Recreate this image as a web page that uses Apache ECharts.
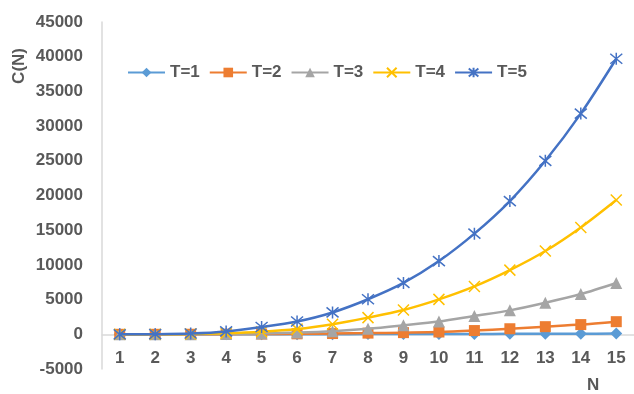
<!DOCTYPE html>
<html><head><meta charset="utf-8">
<script src="https://cdn.jsdelivr.net/npm/echarts@6/dist/echarts.min.js"></script>
<style>html,body{margin:0;padding:0;background:#fff}#c{width:634px;height:394px}</style>
</head><body><div id="c"></div>
<script>
const categories = ['1','2','3','4','5','6','7','8','9','10','11','12','13','14','15'];
const seriesNames = ['T=1','T=2','T=3','T=4','T=5'];
const t1 = [0, 1, 3, 6, 10, 15, 21, 28, 36, 45, 55, 66, 78, 91, 105];
const t2 = [0, 2, 8, 20, 40, 70, 110, 170, 240, 330, 540, 800, 1100, 1400, 1820];
const t3 = [0, 3, 15, 50, 120, 250, 450, 800, 1300, 1850, 2650, 3450, 4550, 5800, 7400];
const t4 = [0, 5, 40, 140, 360, 750, 1450, 2400, 3500, 5030, 6900, 9250, 12000, 15400, 19350];
const t5 = [0, 20, 120, 420, 1050, 1850, 3150, 5050, 7400, 10550, 14500, 19200, 25000, 31800, 39700];
const yTicks = {min: -5000, max: 45000, interval: 5000};

const colors = ['#5B9BD5', '#ED7D31', '#A5A5A5', '#FFC000', '#4472C4'];
const symbols = ['diamond', 'rect', 'triangle',
  'path://M0,0L10,10M10,0L0,10',
  'path://M0,0L10,10M10,0L0,10M5,-1L5,11'];
const sizes = [12, 11, 12, 11, 12];
const data = [t1, t2, t3, t4, t5];

const W = 634, H = 394;
const gridTop = 22, gridBottom = 25;
const plotH = H - gridTop - gridBottom;
const zeroOffset = plotH * (0 - yTicks.min) / (yTicks.max - yTicks.min);

const chart = echarts.init(document.getElementById('c'), null, {renderer: 'canvas'});
const font = 'Liberation Sans';
chart.setOption({
  animation: false,
  color: colors,
  grid: {left: 102, right: 0, top: gridTop, bottom: gridBottom, containLabel: false, outerBoundsMode: 'none'},
  legend: {
    top: 59, left: 122,
    itemWidth: 37, itemHeight: 12, itemGap: 9,
    textStyle: {fontFamily: font, fontWeight: 'bold', fontSize: 17, color: '#595959'},
    data: seriesNames
  },
  xAxis: {
    type: 'category', data: categories, boundaryGap: true,
    position: 'bottom', offset: -zeroOffset,
    axisLine: {onZero: false, lineStyle: {color: '#D9D9D9', width: 1.5}},
    axisTick: {show: false},
    axisLabel: {fontFamily: font, fontWeight: 'bold', fontSize: 17, color: '#595959', margin: 16}
  },
  yAxis: {
    type: 'value', min: yTicks.min, max: yTicks.max, interval: yTicks.interval,
    axisLine: {show: true, lineStyle: {color: '#D9D9D9', width: 1.5}},
    axisTick: {show: false},
    splitLine: {show: false},
    axisLabel: {fontFamily: font, fontWeight: 'bold', fontSize: 17, color: '#595959', margin: 19,
      formatter: v => String(v)}
  },
  graphic: [
    {type: 'text', left: 11, top: 48, rotation: Math.PI / 2,
     style: {text: 'C(N)', font: 'bold 17px "Liberation Sans"', fill: '#595959'}},
    {type: 'text', left: 587, top: 377,
     style: {text: 'N', font: 'bold 17px "Liberation Sans"', fill: '#595959'}}
  ],
  series: data.map((d, i) => ({
    name: seriesNames[i], type: 'line', data: d, smooth: 0.3,
    symbol: symbols[i], symbolSize: sizes[i],
    lineStyle: {color: colors[i], width: 2.5},
    itemStyle: {color: i >= 3 ? 'rgba(0,0,0,0)' : colors[i], borderColor: colors[i], borderWidth: i >= 3 ? 1.5 : 0},
    z: 2 + i
  }))
});
</script></body></html>
